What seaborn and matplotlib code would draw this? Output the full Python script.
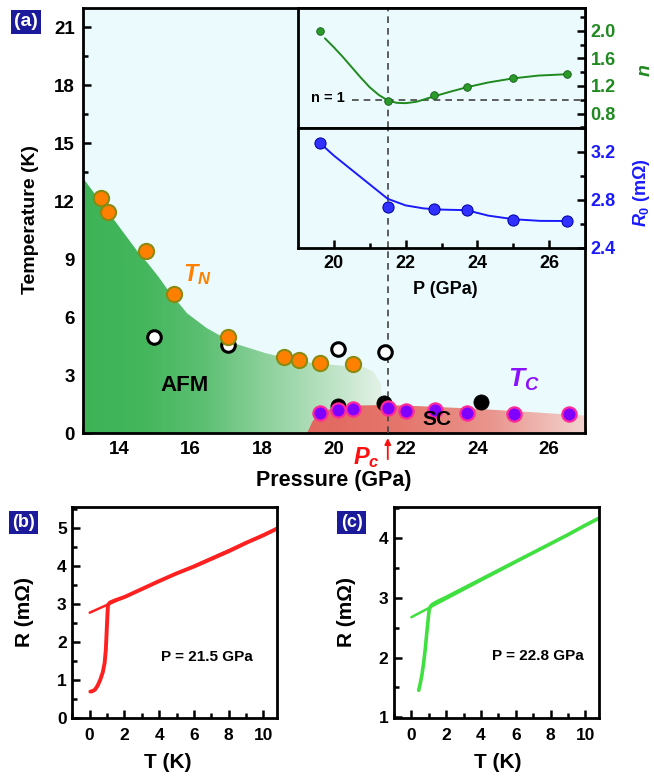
import numpy as np
import matplotlib
matplotlib.use('Agg')
import matplotlib.pyplot as plt
import seaborn as sns
from matplotlib.patches import Polygon
from matplotlib.colors import LinearSegmentedColormap
from matplotlib.ticker import MultipleLocator

# ---------------- data ----------------
TN_P = [13.5, 13.69, 14.75, 15.54, 17.04, 18.6, 19.01, 19.6, 20.53]
TN_T = [12.14, 11.44, 9.41, 7.2, 4.96, 3.92, 3.78, 3.64, 3.55]
open_P = [14.98, 17.04, 20.1, 21.42]
open_T = [4.99, 4.56, 4.35, 4.21]
black_P = [20.1, 21.4, 24.09]
black_T = [1.4, 1.56, 1.58]
TC_P = [19.6, 20.1, 20.52, 21.5, 22.0, 22.81, 23.72, 25.02, 26.55]
TC_T = [1.06, 1.18, 1.23, 1.3, 1.14, 1.18, 1.06, 0.96, 0.96]

AFM_P = [13.0, 13.0, 13.8, 14.6, 14.8, 15.1, 15.35, 15.9, 16.45, 17.2, 18.1, 19.05, 20.0, 20.85, 21.1, 21.3, 21.35, 21.35]
AFM_T = [0.0, 13.2, 11.2, 9.2, 8.8, 8.1, 7.45, 6.2, 5.43, 4.65, 4.13, 3.7, 3.52, 3.4, 3.17, 2.57, 1.87, 0.0]
SC_P = [19.25, 19.4, 19.6, 19.9, 20.5, 21.5, 22.5, 24.0, 25.5, 27.0, 27.0]
SC_T = [0.0, 0.6, 1.0, 1.25, 1.42, 1.45, 1.38, 1.25, 1.08, 0.9, 0.0]

Pc = 21.5
n_P = [19.6, 21.5, 22.8, 23.7, 25.0, 26.5]
n_val = [2.0, 0.98, 1.065, 1.18, 1.32, 1.37]
nfit_P = [19.75, 20.0, 20.25, 20.5, 20.75, 21.0, 21.25, 21.5, 21.75, 22.0, 22.3, 22.8, 23.2, 23.7, 24.3, 25.0, 25.7, 26.5]
nfit_v = [1.89, 1.76, 1.62, 1.47, 1.32, 1.18, 1.07, 0.99, 0.955, 0.95, 0.97, 1.05, 1.11, 1.18, 1.25, 1.31, 1.35, 1.37]
R0_P = [19.6, 21.5, 22.8, 23.7, 25.0, 26.5]
R0_val = [3.275, 2.745, 2.725, 2.72, 2.634, 2.625]
R0fit_P = [19.74, 20.0, 20.5, 21.0, 21.5, 22.0, 22.5, 23.0, 23.7, 24.3, 25.0, 25.75, 26.5]
R0fit_v = [3.24, 3.17, 3.05, 2.93, 2.81, 2.755, 2.73, 2.72, 2.715, 2.67, 2.64, 2.626, 2.625]

Tb = [0.04, 0.15, 0.3, 0.45, 0.6, 0.75, 0.86, 0.93, 0.98, 1.02, 1.05, 1.1, 1.18, 1.5, 2, 3, 4, 5, 6, 7, 8, 9, 10, 10.8]
Rb = [0.70, 0.71, 0.75, 0.85, 1.0, 1.2, 1.45, 1.8, 2.3, 2.7, 2.95, 3.0, 3.04, 3.1, 3.18, 3.39, 3.6, 3.8, 3.98, 4.18, 4.38, 4.6, 4.8, 4.98]
Tb_fit = [0.0, 10.8]
Rb_fit = [2.77, 4.98]
Tc_ = [0.42, 0.5, 0.6, 0.7, 0.8, 0.88, 0.95, 1.02, 1.1, 1.2, 1.5, 2, 3, 4, 5, 6, 7, 8, 9, 10, 10.8]
Rc_ = [1.45, 1.55, 1.7, 1.9, 2.15, 2.4, 2.6, 2.8, 2.86, 2.89, 2.94, 3.01, 3.16, 3.31, 3.46, 3.61, 3.76, 3.91, 4.06, 4.22, 4.34]
Tc_fit = [0.0, 10.8]
Rc_fit = [2.676, 4.34]

# ---------------- style ----------------
sns.set_theme(style='ticks')
plt.rcParams['font.family'] = ['Liberation Sans', 'DejaVu Sans']
plt.rcParams['font.weight'] = 'bold'
plt.rcParams['text.color'] = 'black'
plt.rcParams['axes.labelcolor'] = 'black'
plt.rcParams['mathtext.fontset'] = 'custom'
plt.rcParams['mathtext.rm'] = 'Liberation Sans:bold'
plt.rcParams['mathtext.it'] = 'Liberation Sans:italic:bold'
plt.rcParams['mathtext.bf'] = 'Liberation Sans:bold'

W, H = 654, 779
fig = plt.figure(figsize=(W / 100, H / 100), dpi=100)
fig.patch.set_facecolor('white')

def rect(l, t, r, b):
    return [l / W, 1 - b / H, (r - l) / W, (b - t) / H]

BG = '#ebfbfd'
GREEN = '#1f8a1f'
BLUE = '#1a1aff'

def style(a, lw=2.0, size=13):
    for s in a.spines.values():
        s.set_linewidth(lw)
        s.set_color('black')
        s.set_visible(True)
    a.tick_params(which='both', direction='in', width=1.8, color='black', labelcolor='black', labelsize=size)
    a.tick_params(which='major', length=6)
    a.tick_params(which='minor', length=3.5)
    for lab in a.get_xticklabels() + a.get_yticklabels():
        lab.set_fontweight('bold')

def gradient_fill(a, xs, ys, colors, z):
    poly = Polygon(np.column_stack([xs, ys]), closed=True, facecolor='none', edgecolor='none')
    a.add_patch(poly)
    cmap = LinearSegmentedColormap.from_list('g', colors)
    grad = np.linspace(0, 1, 256).reshape(1, -1)
    im = a.imshow(grad, extent=[min(xs), max(xs), min(ys), max(ys)], aspect='auto',
                  cmap=cmap, origin='lower', zorder=z, interpolation='bilinear')
    im.set_clip_path(poly)

# ---------------- main panel (a) ----------------
ax = fig.add_axes(rect(83, 8, 585, 433))
ax.set_facecolor(BG)
gradient_fill(ax, AFM_P, AFM_T, ['#3db356', '#44b65c', '#5cbf72', '#8bd09a', '#b6e0bf', '#e4f2e8'], 1)
gradient_fill(ax, SC_P, SC_T, ['#e2685e', '#e5766c', '#e9968e', '#f3d3cf'], 2)
ax.axvline(Pc, color='#444444', lw=1.2, ls=(0, (4, 3)), zorder=3)

sns.scatterplot(x=open_P, y=open_T, ax=ax, s=95, color='white', edgecolor='black', linewidth=2.2, zorder=4)
sns.scatterplot(x=black_P, y=black_T, ax=ax, s=120, color='black', edgecolor='black', linewidth=0.5, zorder=4)
sns.scatterplot(x=TN_P, y=TN_T, ax=ax, s=120, color='#ff8000', edgecolor='#8a8a10', linewidth=1.5, zorder=5)
sns.scatterplot(x=TC_P, y=TC_T, ax=ax, s=105, color='#8000ff', edgecolor='#ff2a9a', linewidth=1.6, zorder=5)

ax.set_xlim(13, 27)
ax.set_ylim(0, 22)
ax.xaxis.set_major_locator(MultipleLocator(2))
ax.xaxis.set_minor_locator(MultipleLocator(1))
ax.yaxis.set_major_locator(MultipleLocator(3))
ax.yaxis.set_minor_locator(MultipleLocator(1.5))
style(ax, size=13.5)
ax.tick_params(which='both', top=False, right=False, pad=6)
ax.set_xlabel('')
ax.set_ylabel('')

ax.text(15.83, 2.45, 'AFM', fontsize=16, fontweight='bold', color='black', ha='center', va='center', zorder=6)
ax.text(22.86, 0.69, 'SC', fontsize=15, fontweight='bold', color='black', ha='center', va='center', zorder=6)
ax.text(16.2, 8.2, r'$T_N$', fontsize=17, color='#ff8000', ha='center', va='center', zorder=6)
ax.text(25.3, 2.75, r'$T_C$', fontsize=19, color='#8a10ff', ha='center', va='center', zorder=6)
ax.text(20.9, -1.25, r'$P_c$', fontsize=17, color='#ff1010', ha='center', va='center', clip_on=False)
ax.annotate('', xy=(Pc, -0.12), xytext=(Pc, -1.5), xycoords='data', annotation_clip=False,
            arrowprops=dict(arrowstyle='-|>', color='#ff1010', lw=1.3, mutation_scale=9))

fig.text(31 / W, 1 - 219 / H, 'Temperature (K)', rotation=90, ha='center', va='center', fontsize=14, fontweight='bold', color='black')
fig.text(334 / W, 1 - 480 / H, 'Pressure (GPa)', ha='center', va='center', fontsize=15.5, fontweight='bold', color='black')

# ---------------- inset: n ----------------
axn = fig.add_axes(rect(298, 8, 585, 128))
axn.set_facecolor(BG)
axn.axvline(Pc, color='#444444', lw=1.2, ls=(0, (4, 3)), zorder=1)
axn.plot([20.5, 27], [1.0, 1.0], color='#444444', lw=1.2, ls=(0, (4, 3)), zorder=1)
sns.lineplot(x=nfit_P, y=nfit_v, ax=axn, color=GREEN, lw=1.4, sort=False, estimator=None, zorder=2)
sns.scatterplot(x=n_P, y=n_val, ax=axn, s=30, color='#2a9a2a', edgecolor='#145a14', linewidth=0.6, zorder=3)
axn.text(19.83, 1.03, 'n = 1', fontsize=10.5, fontweight='bold', color='black', ha='center', va='center')
axn.set_xlim(19, 27)
axn.set_ylim(0.59, 2.33)
axn.set_yticks([0.8, 1.2, 1.6, 2.0])
axn.set_yticks(np.arange(0.6, 2.4, 0.2), minor=True)
style(axn, size=13)
axn.tick_params(axis='x', which='both', bottom=False, top=False, labelbottom=False)
axn.tick_params(axis='y', which='both', left=False, right=True, labelleft=False, labelright=True, labelcolor=GREEN, pad=4)
axn.set_xlabel('')
axn.set_ylabel('')

# ---------------- inset: R0 ----------------
axr = fig.add_axes(rect(298, 128, 585, 248))
axr.set_facecolor(BG)
axr.axvline(Pc, color='#444444', lw=1.2, ls=(0, (4, 3)), zorder=1)
sns.lineplot(x=R0fit_P, y=R0fit_v, ax=axr, color=BLUE, lw=1.4, sort=False, estimator=None, zorder=2)
sns.scatterplot(x=R0_P, y=R0_val, ax=axr, s=65, color='#3030ff', edgecolor='#0000a0', linewidth=0.7, zorder=3)
axr.set_xlim(19, 27)
axr.set_ylim(2.4, 3.4)
axr.set_xticks([20, 22, 24, 26])
axr.set_xticks([21, 23, 25], minor=True)
axr.set_yticks([2.4, 2.8, 3.2])
axr.set_yticks([2.6, 3.0, 3.4], minor=True)
style(axr, size=13)
axr.tick_params(axis='x', which='both', top=False, pad=5)
axr.tick_params(axis='y', which='both', left=False, right=True, labelleft=False, labelright=True, labelcolor=BLUE, pad=4)
axr.set_xlabel('')
axr.set_ylabel('')

fig.text(445 / W, 1 - 290 / H, 'P (GPa)', ha='center', va='center', fontsize=13, fontweight='bold', color='black')
fig.text(645 / W, 1 - 70 / H, r'$n$', rotation=90, ha='center', va='center', fontsize=14, color=GREEN)
fig.text(641 / W, 1 - 193 / H, r'$R_0$ (mΩ)', rotation=90, ha='center', va='center', fontsize=13, color=BLUE, fontweight='bold')

# ---------------- panel (b) ----------------
axb = fig.add_axes(rect(72.3, 506.7, 277.3, 718.3))
axb.set_facecolor('white')
sns.lineplot(x=Tb_fit, y=Rb_fit, ax=axb, color='#ff2020', lw=1.8, sort=False, estimator=None)
sns.lineplot(x=Tb, y=Rb, ax=axb, color='#ff2020', lw=2.8, sort=False, estimator=None)
axb.set_xlim(-1, 10.8)
axb.set_ylim(0, 5.55)
axb.xaxis.set_major_locator(MultipleLocator(2))
axb.xaxis.set_minor_locator(MultipleLocator(1))
axb.yaxis.set_major_locator(MultipleLocator(1))
axb.yaxis.set_minor_locator(MultipleLocator(0.5))
style(axb, size=12.5)
axb.tick_params(which='both', top=False, right=False)
axb.tick_params(axis='x', pad=7)
axb.tick_params(axis='y', pad=4)
axb.set_xlabel('')
axb.set_ylabel('')
axb.text(6.77, 1.62, 'P = 21.5 GPa', fontsize=11, fontweight='bold', color='black', ha='center', va='center')
fig.text(25 / W, 1 - 612 / H, 'R (mΩ)', rotation=90, ha='center', va='center', fontsize=15, fontweight='bold', color='black')
fig.text(168 / W, 1 - 763 / H, 'T (K)', ha='center', va='center', fontsize=15, fontweight='bold', color='black')

# ---------------- panel (c) ----------------
axc = fig.add_axes(rect(394, 506.7, 599.3, 718.3))
axc.set_facecolor('white')
sns.lineplot(x=Tc_fit, y=Rc_fit, ax=axc, color='#40e040', lw=1.8, sort=False, estimator=None)
sns.lineplot(x=Tc_, y=Rc_, ax=axc, color='#40e040', lw=2.6, sort=False, estimator=None)
axc.set_xlim(-1, 10.8)
axc.set_ylim(0.98, 4.53)
axc.xaxis.set_major_locator(MultipleLocator(2))
axc.xaxis.set_minor_locator(MultipleLocator(1))
axc.set_yticks([1, 2, 3, 4])
axc.set_yticks([1.5, 2.5, 3.5, 4.5], minor=True)
style(axc, size=12.5)
axc.tick_params(which='both', top=False, right=False)
axc.tick_params(axis='x', pad=7)
axc.tick_params(axis='y', pad=4)
axc.set_xlabel('')
axc.set_ylabel('')
axc.text(7.27, 2.02, 'P = 22.8 GPa', fontsize=11, fontweight='bold', color='black', ha='center', va='center')
fig.text(347 / W, 1 - 612 / H, 'R (mΩ)', rotation=90, ha='center', va='center', fontsize=15, fontweight='bold', color='black')
fig.text(498 / W, 1 - 763 / H, 'T (K)', ha='center', va='center', fontsize=15, fontweight='bold', color='black')

# ---------------- panel labels ----------------
box = dict(boxstyle='square,pad=0.18', fc='#1a1a9a', ec='none')
fig.text(26 / W, 1 - 22 / H, '(a)', color='white', fontsize=14, fontweight='bold', ha='center', va='center', bbox=box)
fig.text(23.5 / W, 1 - 522.5 / H, '(b)', color='white', fontsize=13, fontweight='bold', ha='center', va='center', bbox=box)
fig.text(351.5 / W, 1 - 522.5 / H, '(c)', color='white', fontsize=13, fontweight='bold', ha='center', va='center', bbox=box)

fig.savefig('out.png', dpi=100, facecolor='white')
